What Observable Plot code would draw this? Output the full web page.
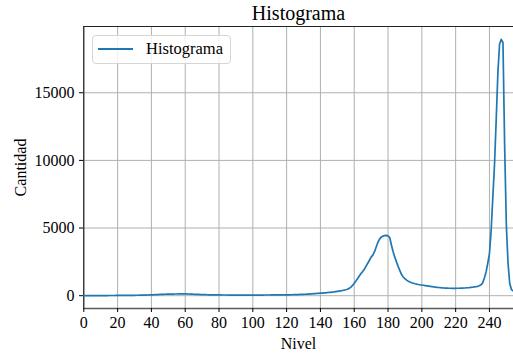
<!DOCTYPE html>
<html><head><meta charset="utf-8">
<script src="https://cdn.jsdelivr.net/npm/d3@7"></script>
<script src="https://cdn.jsdelivr.net/npm/@observablehq/plot@0.6"></script>
<style>
body{margin:0;background:#fff;}
#wrap{position:relative;width:513px;height:356px;overflow:hidden;}
#wrap svg text{font-family:"Liberation Serif";}
#legend{position:absolute;left:92px;top:35px;width:139px;height:29px;border:1px solid #d6d6d6;border-radius:4px;background:rgba(255,255,255,0.8);font-family:"Liberation Serif";font-size:16.5px;box-sizing:border-box;}
#legend svg{position:absolute;left:4px;top:11px;}
#legend span{position:absolute;left:53px;top:3px;color:#000;}
</style></head><body><div id="wrap"><div id="legend"><svg width="37" height="4"><line x1="1" y1="2" x2="36" y2="2" stroke="#1f77b4" stroke-width="1.8"/></svg><span>Histograma</span></div></div>
<script>
const title = "Histograma";
const seriesName = "Histograma";
const xLabel = "Nivel";
const yLabel = "Cantidad";
const xTicks = [0,20,40,60,80,100,120,140,160,180,200,220,240];
const yTicks = [0,5000,10000,15000];
const xDomain = [0,255];
const yDomain = [-947,19897];
// counts per level 0..255
const cantidad = [
3,4,5,5,6,6,7,8,8,9,
10,10,11,12,12,13,14,14,15,16,
17,18,19,20,21,22,23,25,26,28,
30,32,34,36,38,41,44,48,52,57,
62,67,72,78,84,90,96,101,106,110,
114,117,120,122,124,126,128,130,131,132,
131,128,124,119,113,107,101,95,90,85,
81,77,73,70,67,64,62,60,58,56,
54,53,52,51,50,49,48,47,47,46,
46,45,45,45,44,44,44,44,44,44,
44,44,45,45,46,47,48,49,50,51,
52,53,54,55,56,57,58,59,60,61,
62,64,66,69,72,76,80,85,90,96,
102,108,115,122,130,138,146,155,164,174,
185,195,205,215,226,238,250,265,280,298,
318,340,362,385,410,440,480,540,620,760,
920,1090,1270,1460,1640,1780,1960,2180,2400,2620,
2850,3000,3250,3600,3950,4180,4330,4400,4440,4460,
4420,4300,3750,3250,2850,2500,2150,1850,1560,1380,
1250,1150,1070,1010,960,920,880,850,825,805,
790,770,750,730,710,690,670,650,635,620,
605,590,580,570,560,555,550,548,545,545,
545,548,550,555,560,568,575,585,595,610,
625,645,665,690,730,800,950,1300,1750,2400,
3100,4800,7300,9700,13000,16500,18600,18950,18700,11000,
5200,2400,900,450,350,280
];
const niveles = cantidad.map((_, i) => i);
const data = niveles.map((n, i) => ({nivel: n, cantidad: cantidad[i]}));
const font = "Liberation Serif";

const chart = Plot.plot({
  width: 513,
  height: 356,
  marginLeft: 83,
  marginRight: 0,
  marginTop: 26,
  marginBottom: 48,
  style: {fontFamily: font, fontSize: "16px", color: "#000", background: "transparent"},
  x: {domain: xDomain, range: [83.3, 514.3]},
  y: {domain: yDomain},
  marks: [
    Plot.gridX(xTicks, {stroke: "#b0b0b0", strokeOpacity: 1, strokeWidth: 1}),
    Plot.gridY(yTicks, {stroke: "#b0b0b0", strokeOpacity: 1, strokeWidth: 1}),
    Plot.ruleX([xDomain[0]], {stroke: "#000", strokeWidth: 1}),
    Plot.ruleY([yDomain[1]], {stroke: "#222", strokeWidth: 1}),
    Plot.ruleY([yDomain[0]], {stroke: "#5a5a5a", strokeWidth: 1.4}),
    Plot.line(data, {x: "nivel", y: "cantidad", stroke: "#1f77b4", strokeWidth: 1.7}),
    Plot.axisX(xTicks, {tickSize: 4, tickPadding: 4, tickFormat: d3.format("d"), label: null, fontFamily: font, fontSize: 16}),
    Plot.axisY(yTicks, {tickSize: 4, tickPadding: 5, tickFormat: d3.format("d"), label: null, fontFamily: font, fontSize: 16}),
    Plot.text([xLabel], {frameAnchor: "bottom", lineAnchor: "middle", dy: 35, fontSize: 16, fontFamily: font}),
    Plot.text([yLabel], {frameAnchor: "left", lineAnchor: "middle", textAnchor: "middle", rotate: -90, dx: -63, fontSize: 16, fontFamily: font}),
    Plot.text([title], {frameAnchor: "top", lineAnchor: "middle", dy: -13, fontSize: 20, fontFamily: font})
  ]
});
document.getElementById("wrap").prepend(chart);
</script></body></html>
